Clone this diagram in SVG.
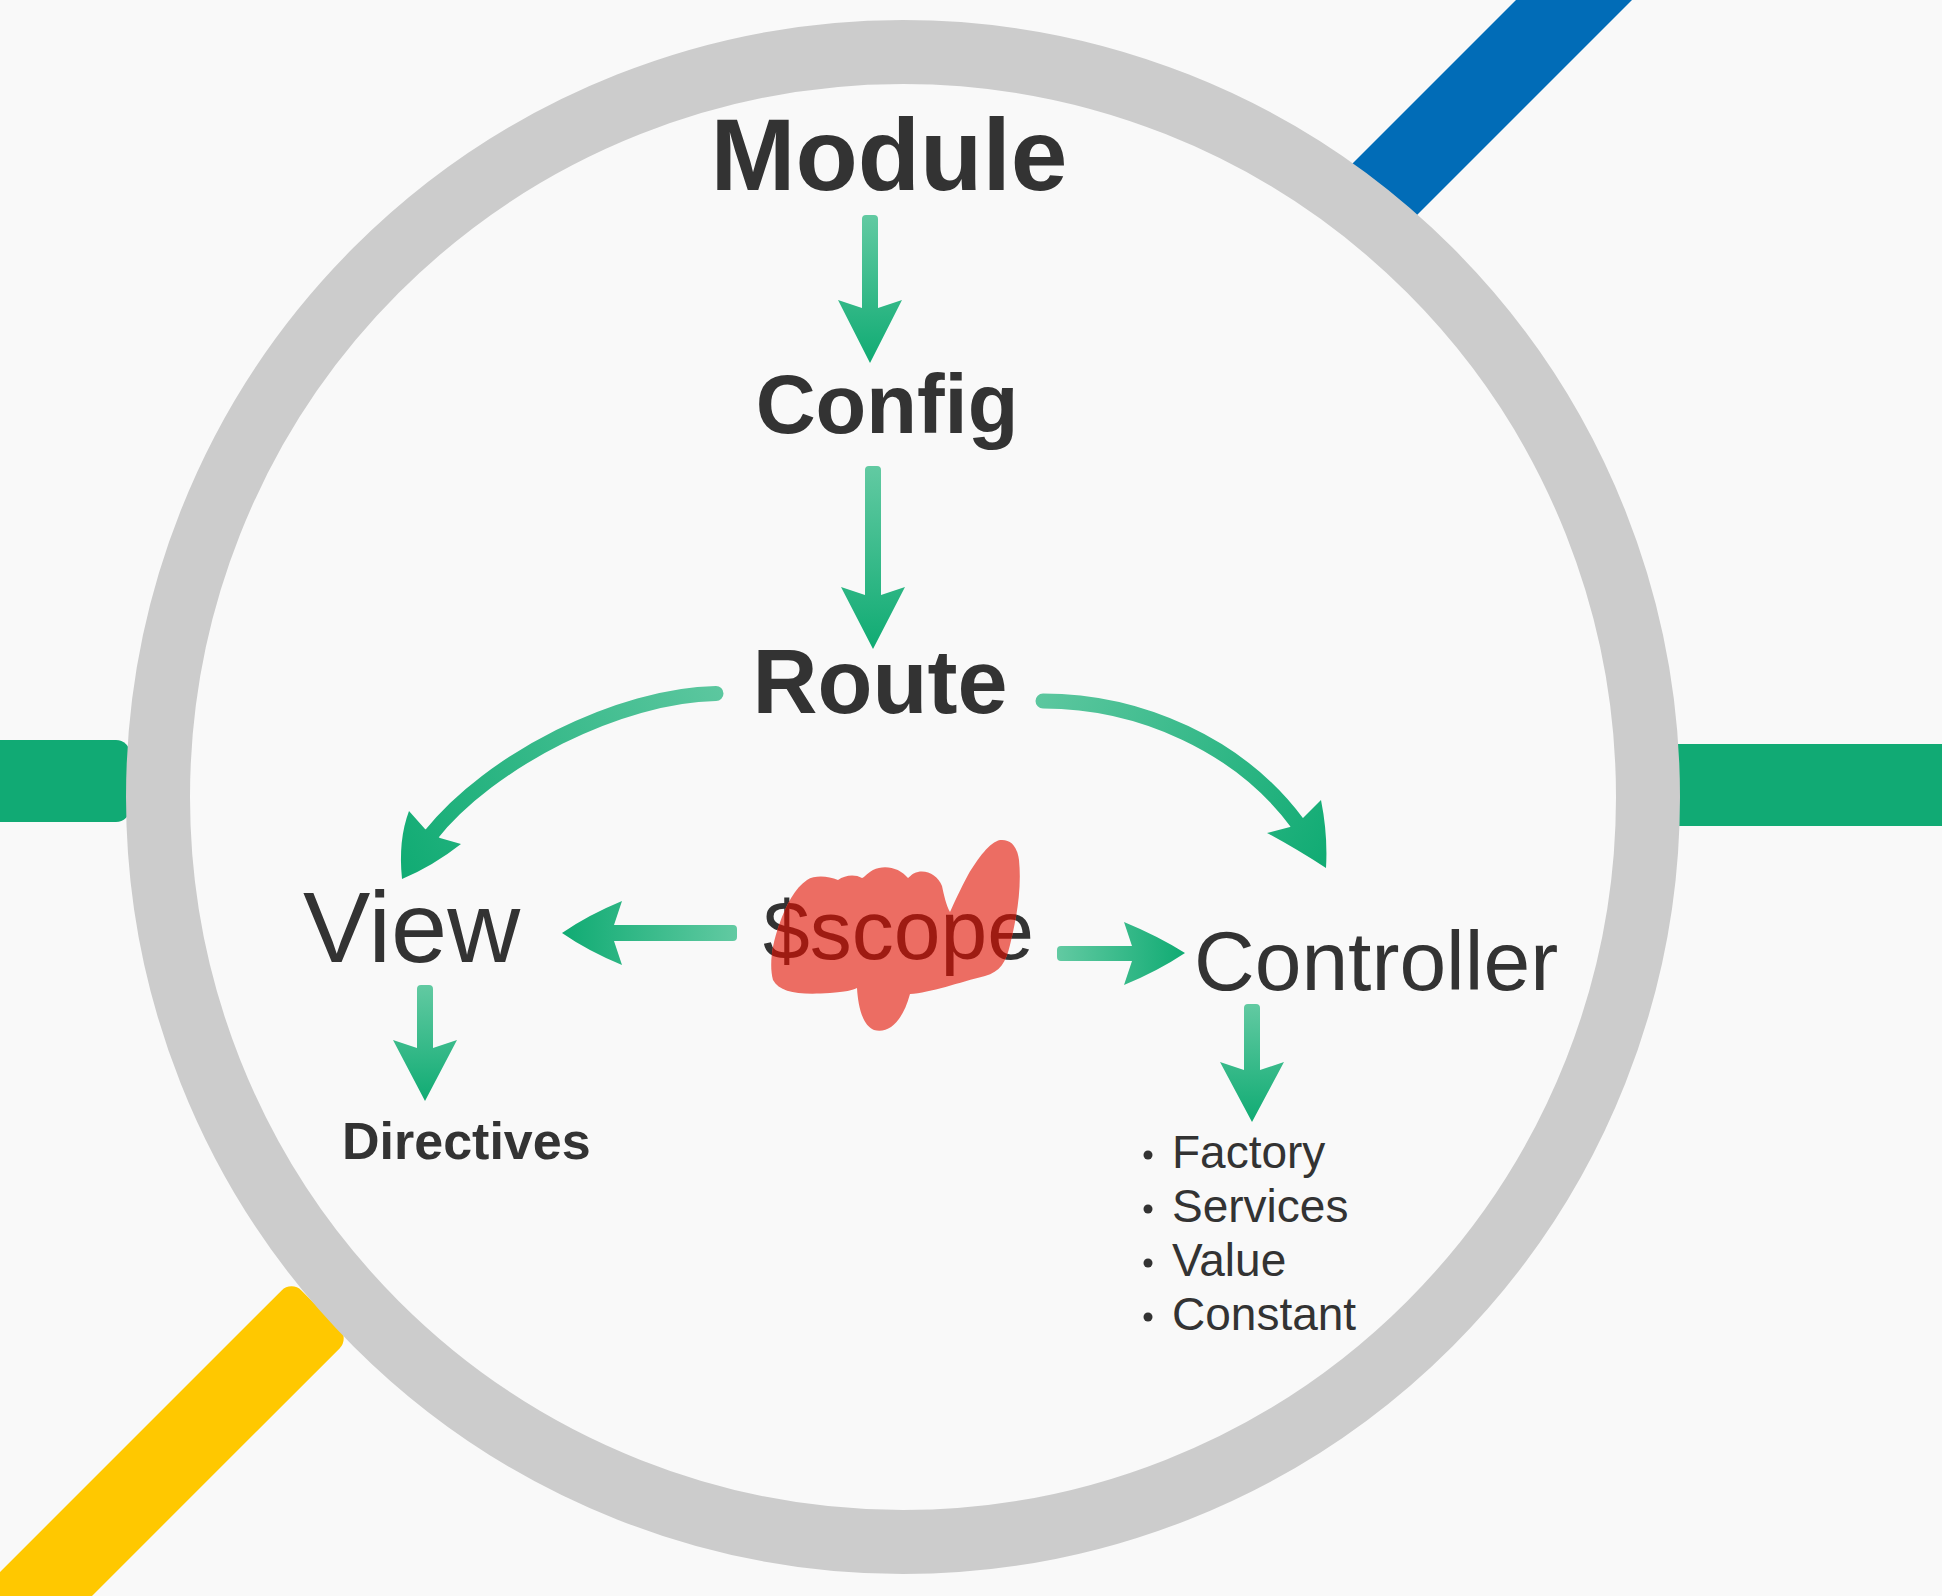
<svg xmlns="http://www.w3.org/2000/svg" width="1942" height="1596" viewBox="0 0 1942 1596">
  <style>
    .t { font-family: "Liberation Sans", Arial, sans-serif; fill: #333333; }
    .b { font-weight: bold; }
    .ring { fill: none; stroke: #cccccc; stroke-width: 64; }
    .band { stroke-linecap: butt; }
  </style>
  <defs>
    <linearGradient id="gV" x1="0" y1="0" x2="0" y2="1">
      <stop offset="0" stop-color="#62caa2"/>
      <stop offset="1" stop-color="#10ab73"/>
    </linearGradient>
    <linearGradient id="gL" x1="1" y1="0" x2="0" y2="0">
      <stop offset="0" stop-color="#62caa2"/>
      <stop offset="1" stop-color="#10ab73"/>
    </linearGradient>
    <linearGradient id="gR" x1="0" y1="0" x2="1" y2="0">
      <stop offset="0" stop-color="#62caa2"/>
      <stop offset="1" stop-color="#10ab73"/>
    </linearGradient>
    <linearGradient id="gArcL" gradientUnits="userSpaceOnUse" x1="723" y1="693" x2="402" y2="879">
      <stop offset="0" stop-color="#5cc79f"/>
      <stop offset="1" stop-color="#10ab73"/>
    </linearGradient>
    <linearGradient id="gArcR" gradientUnits="userSpaceOnUse" x1="1036" y1="701" x2="1326" y2="868">
      <stop offset="0" stop-color="#5cc79f"/>
      <stop offset="1" stop-color="#10ab73"/>
    </linearGradient>
    <path id="blobShape" d="M807,880 C795,888 786,905 779,925 C772,945 769,965 773,980 C780,993 800,995 830,993 C845,992 853,990 857,988 C858,1005 862,1025 874,1030 C890,1034 903,1020 910,994 C930,993 960,982 985,976 C1000,972 1006,962 1010,945 C1016,920 1022,890 1019,860 C1017,845 1010,839 1000,840 C990,842 978,858 968,875 C960,890 954,903 950,912 C946,905 944,895 942,886 C938,876 928,870 918,872 C912,873 910,877 908,878 C900,868 885,864 873,870 C866,874 864,878 862,878 C855,874 845,875 838,880 C828,876 815,875 807,880 Z"/>
    <clipPath id="blobClip">
      <use href="#blobShape"/>
    </clipPath>
  </defs>

  <rect x="0" y="0" width="1942" height="1596" fill="#f9f9f9"/>

  <g id="bands">
    <line class="band" x1="1610" y1="-36" x2="1363" y2="211" stroke="#016cb7" stroke-width="82"/>
    <rect x="-20" y="740" width="150" height="82" rx="14" fill="#11aa74"/>
    <rect x="1660" y="744" width="320" height="82" rx="10" fill="#11aa74"/>
    <rect x="0" y="-41" width="540" height="82" rx="14" fill="#ffc800" transform="translate(320.5,1309.5) rotate(135)"/>
  </g>

  <g id="ring">
    <circle class="ring" cx="903" cy="797" r="745"/>
  </g>

  <g id="connectors">
    <path d="M862,219 Q862,215 866,215 L874,215 Q878,215 878,219 L878,308 L902,300 L870,363 L838,300 L862,308 Z" fill="url(#gV)"/>
    <path d="M865,470 Q865,466 869,466 L877,466 Q881,466 881,470 L881,595 L905,587 L873,649 L841,587 L865,595 Z" fill="url(#gV)"/>
    <g id="arcLeft">
      <path d="M716,693.5 C620,695 490,760 430,836" fill="none" stroke="url(#gArcL)" stroke-width="15" stroke-linecap="round"/>
      <path d="M402,879 Q398,840 409,811 L425,829 L440,838 L461,844 Q433,866 402,879 Z" fill="url(#gArcL)"/>
    </g>
    <g id="arcRight">
      <path d="M1043,701 C1140,701 1240,745 1298,824" fill="none" stroke="url(#gArcR)" stroke-width="15" stroke-linecap="round"/>
      <path d="M1326,868 Q1328,835 1321,800 L1303,818 L1290,827 L1267,833 Q1295,848 1326,868 Z" fill="url(#gArcR)"/>
    </g>
    <path d="M733,925 Q737,925 737,929 L737,937 Q737,941 733,941 L614,941 L622,965 Q588,951 562,933 Q588,915 622,901 L614,925 Z" fill="url(#gL)"/>
    <path d="M1061,946 L1132,946 L1124,922 Q1158,936 1185,953 Q1158,971 1124,985 L1132,961 L1061,961 Q1057,961 1057,957 L1057,950 Q1057,946 1061,946 Z" fill="url(#gR)"/>
    <path d="M417,989 Q417,985 421,985 L429,985 Q433,985 433,989 L433,1048 L457,1040 L425,1101 L393,1040 L417,1048 Z" fill="url(#gV)"/>
    <path d="M1244,1008 Q1244,1004 1248,1004 L1256,1004 Q1260,1004 1260,1008 L1260,1070 L1284,1062 L1252,1122 L1220,1062 L1244,1070 Z" fill="url(#gV)"/>
  </g>

  <g id="module">
    <text class="t b" x="889" y="190" font-size="102" text-anchor="middle">Module</text>
  </g>
  <g id="config">
    <text class="t b" x="887" y="433" font-size="83" text-anchor="middle">Config</text>
  </g>
  <g id="route">
    <text class="t b" x="880" y="713" font-size="90" text-anchor="middle">Route</text>
  </g>
  <g id="view">
    <text class="t" x="303" y="962" font-size="101">View</text>
  </g>
  <g id="scope">
    <text class="t" x="763" y="959" font-size="84">$scope</text>
    <use href="#blobShape" fill="#ec6d63"/>
    <text class="t" x="763" y="959" font-size="84" style="fill:#9e1b12" clip-path="url(#blobClip)">$scope</text>
  </g>
  <g id="controller">
    <text class="t" x="1194" y="990" font-size="84">Controller</text>
  </g>
  <g id="directives">
    <text class="t b" x="342" y="1159" font-size="52">Directives</text>
  </g>
  <g id="services-list">
    <circle cx="1148" cy="1155" r="4.5" fill="#333333"/>
    <circle cx="1148" cy="1209" r="4.5" fill="#333333"/>
    <circle cx="1148" cy="1263" r="4.5" fill="#333333"/>
    <circle cx="1148" cy="1317" r="4.5" fill="#333333"/>
    <text class="t" x="1172" y="1168" font-size="46">Factory</text>
    <text class="t" x="1172" y="1222" font-size="46">Services</text>
    <text class="t" x="1172" y="1276" font-size="46">Value</text>
    <text class="t" x="1172" y="1330" font-size="46">Constant</text>
  </g>
</svg>
